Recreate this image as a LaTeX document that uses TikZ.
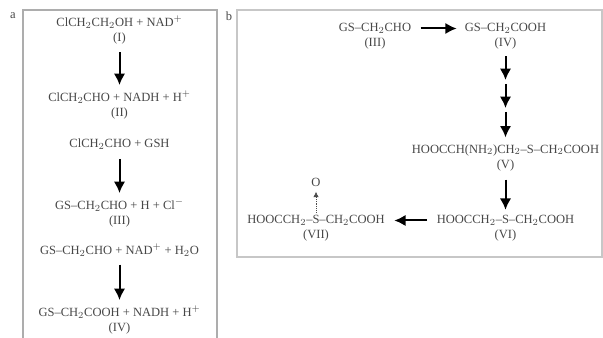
\documentclass[tikz,border=0pt]{standalone}
\usepackage{fontspec}
\setmainfont{Liberation Serif}
\usepackage{tikz}
\usetikzlibrary{arrows.meta, positioning}

\begin{document}
\begin{tikzpicture}[
    x=0.75pt, y=-0.75pt,
    font=\fontsize{9.4}{11}\selectfont,
    frm/.style={draw=black!32, line width=1.1pt},
    chem/.style={inner sep=0pt, text=black!72},
    num/.style={inner sep=0pt, text=black!72, below=2.8pt of #1},
    arr/.style={-{Latex[length=8.5pt,width=8.5pt]}, line width=1.5pt},
    oarr/.style={-{Latex[length=4pt,width=4pt]}, line width=0.4pt, black!70},
]
\useasboundingbox (0,0) rectangle (603,338);

% frames
\draw[frm] (23,338) |- (217,10) -- (217,338);
\draw[frm, draw=black!22] (237,257) |- (602,10) -- (602,257) -- cycle;
\node[chem] (tagA) at (13,16) {a};
\node[chem] (tagB) at (229,16) {b};

% panel a
\node[chem] (chA) at (119.5,22) {ClCH$_2$CH$_2$OH + NAD$^+$};
\node[num=chA] (nI) {(I)};
\node[chem] (chB) at (119.5,97) {ClCH$_2$CHO + NADH + H$^+$};
\node[num=chB] (nII) {(II)};
\node[chem] (chC) at (119.5,144) {ClCH$_2$CHO + GSH};
\node[chem] (chD) at (119.5,205) {GS--CH$_2$CHO + H + Cl$^-$};
\node[num=chD] (nIIIa) {(III)};
\node[chem] (chE) at (119.5,250) {GS--CH$_2$CHO + NAD$^+$ + H$_2$O};
\node[chem] (chF) at (119.5,312) {GS--CH$_2$COOH + NADH + H$^+$};
\node[num=chF] (nIVa) {(IV)};

\draw[arr] ([yshift=-6pt]nI.south) -- ([yshift=4pt]chB.north);
\draw[arr] ([yshift=-7pt]chC.south) -- ([yshift=4pt]chD.north);
\draw[arr] ([yshift=-6pt]chE.south) -- ([yshift=4pt]chF.north);

% panel b
\node[chem] (chG) at (375,28.5) {GS--CH$_2$CHO};
\node[num=chG] (nIIIb) {(III)};
\node[chem] (chH) at (505.5,28.5) {GS--CH$_2$COOH};
\node[num=chH] (nIVb) {(IV)};
\node[chem] (chI) at (505.5,150) {HOOCCH(NH$_2$)CH$_2$--S--CH$_2$COOH};
\node[num=chI] (nV) {(V)};
\node[chem] (chJ) at (505.5,220.5) {HOOCCH$_2$--S--CH$_2$COOH};
\node[num=chJ] (nVI) {(VI)};
\node[chem] (chK) at (316,220.5) {HOOCCH$_2$--S--CH$_2$COOH};
\node[num=chK] (nVII) {(VII)};
\node[chem] (oxo) at (316,182) {O};

\coordinate (s1) at (505.5,82);
\coordinate (s2) at (505.5,110);

\draw[arr] ([xshift=7pt]chG.east) -- ([xshift=-6pt]chH.west);
\draw[arr] ([yshift=-5pt]nIVb.south) -- ([yshift=1.5pt]s1);
\draw[arr] ([yshift=-1.5pt]s1) -- ([yshift=1.5pt]s2);
\draw[arr] ([yshift=-1.5pt]s2) -- ([yshift=5pt]chI.north);
\draw[arr] ([yshift=-6pt]nV.south) -- ([yshift=4pt]chJ.north);
\draw[arr] ([xshift=-7pt]chJ.west) -- ([xshift=7pt]chK.east);
\draw[oarr, densely dotted] ([yshift=2pt]chK.north) -- ([yshift=-4pt]oxo.south);

\end{tikzpicture}
\end{document}
